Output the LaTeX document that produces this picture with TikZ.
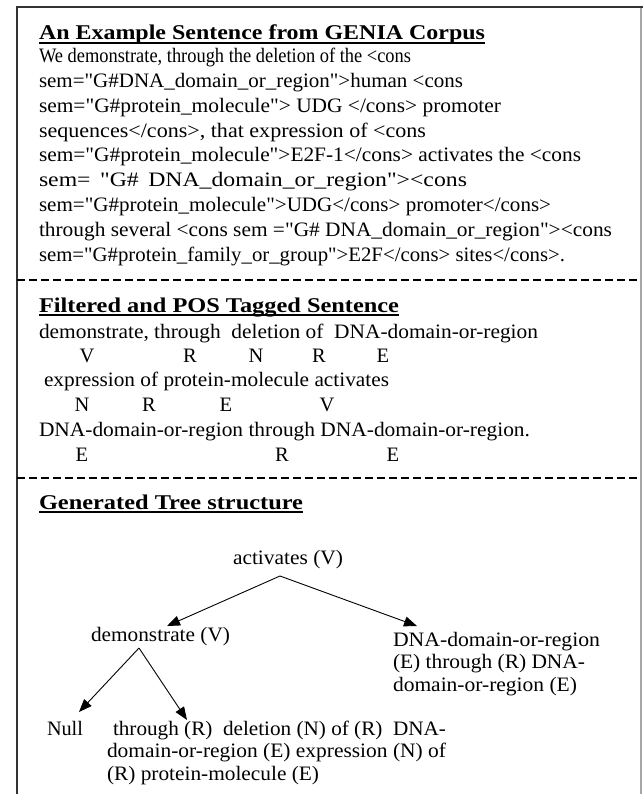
\documentclass[tikz,border=0pt]{standalone}
\usepackage{fontspec}
\setmainfont{Liberation Serif}[Ligatures=TeXOff]
\usepackage{graphicx}
\usetikzlibrary{arrows.meta}
\newcommand\fw[2]{\resizebox{#1pt}{\height}{#2}}
\begin{document}
\begin{tikzpicture}[x=1pt,y=-1pt,
  txt/.style={anchor=base west, inner sep=0pt, outer sep=0pt, font=\fontsize{20.5}{24}\selectfont},
  head/.style={anchor=base west, inner sep=0pt, outer sep=0pt, font=\fontsize{21}{24}\selectfont\bfseries},
  tag/.style={anchor=base, inner sep=0pt, outer sep=0pt, font=\fontsize{20.5}{24}\selectfont},
  uline/.style={line width=1.3pt},
  sep/.style={line width=1.8pt, dash pattern=on 7.5pt off 4.5pt},
  edge/.style={line width=0.9pt, -{Triangle[length=13pt,width=10pt]}},
]
\useasboundingbox (0,0) rectangle (642,794);
\fill[white] (0,0) rectangle (642,794);
% frame
\draw[line width=2.4pt, black!80] (17,796) -- (17,7) -- (643,7);
\draw[black!35, line width=1.2pt] (641,8) -- (641,796);
\draw[sep] (17,280) -- (641,280);
\draw[sep] (17,478) -- (641,478);

% section 1
\node[head] (h1) at (39,40) {\fw{446}{An Example Sentence from GENIA Corpus}};
\draw[uline] ([yshift=-3pt]h1.base west) -- ([yshift=-3pt]h1.base east);
\node[txt] (s1) at (39,63) {\fw{372}{We demonstrate, through the deletion of the <cons}};
\node[txt] (s2) at (39,87.75) {\fw{424}{sem="G\#DNA\_domain\_or\_region">human <cons}};
\node[txt] (s3) at (39,112.5) {\fw{462}{sem="G\#protein\_molecule"> UDG </cons> promoter}};
\node[txt] (s4) at (39,137.25) {\fw{387}{sequences</cons>, that expression of <cons}};
\node[txt] (s5) at (39,162) {\fw{542}{sem="G\#protein\_molecule">E2F-1</cons> activates the <cons}};
\node[txt] (s6) at (39,186.75) {\fw{428}{sem=\hspace{0.15em} "G\#\hspace{0.15em} DNA\_domain\_or\_region"><cons}};
\node[txt] (s7) at (39,211.5) {\fw{512}{sem="G\#protein\_molecule">UDG</cons> promoter</cons>}};
\node[txt] (s8) at (39,236.25) {\fw{573}{through several <cons sem ="G\# DNA\_domain\_or\_region"><cons}};
\node[txt] (s9) at (39,261) {\fw{526}{sem="G\#protein\_family\_or\_group">E2F</cons> sites</cons>.}};

% section 2
\node[head] (h2) at (39,312) {\fw{360}{Filtered and POS Tagged Sentence}};
\draw[uline] ([yshift=-3pt]h2.base west) -- ([yshift=-3pt]h2.base east);
\node[txt] (p1) at (39,338) {\fw{499}{demonstrate, through\ \ deletion of\ \ DNA-domain-or-region}};
\node[tag] (t1a) at (87,362) {V};
\node[tag] (t1b) at (190,362) {R};
\node[tag] (t1c) at (256,362) {N};
\node[tag] (t1d) at (319,362) {R};
\node[tag] (t1e) at (383,362) {E};
\node[txt] (p2) at (44,386) {\fw{345}{expression of protein-molecule activates}};
\node[tag] (t2a) at (82,411) {N};
\node[tag] (t2b) at (149,411) {R};
\node[tag] (t2c) at (226,411) {E};
\node[tag] (t2d) at (327,411) {V};
\node[txt] (p3) at (39,436) {\fw{491}{DNA-domain-or-region through DNA-domain-or-region.}};
\node[tag] (t3a) at (82,461) {E};
\node[tag] (t3b) at (282,461) {R};
\node[tag] (t3c) at (393,461) {E};

% section 3
\node[head] (h3) at (39,509) {\fw{264}{Generated Tree structure}};
\draw[uline] ([yshift=-3pt]h3.base west) -- ([yshift=-3pt]h3.base east);

\node[txt] (act) at (233,564) {\fw{110}{activates (V)}};
\node[txt] (dem) at (91,641) {\fw{139}{demonstrate (V)}};
\node[txt] (r1) at (393,646) {\fw{207}{DNA-domain-or-region}};
\node[txt] (r2) at (393,668.5) {\fw{192}{(E) through (R) DNA-}};
\node[txt] (r3) at (393,691) {\fw{184}{domain-or-region (E)}};
\node[txt] (null) at (47,735) {\fw{36}{Null}};
\node[txt] (b1) at (113,735) {\fw{333}{through (R)\ \ deletion (N) of (R)\ \ DNA-}};
\node[txt] (b2) at (107,757.5) {\fw{339}{domain-or-region (E) expression (N) of}};
\node[txt] (b3) at (107,780) {\fw{212}{(R) protein-molecule (E)}};

\coordinate (actfoot) at (280,576);
\coordinate (demtip) at (167,626);
\coordinate (rtip) at (417,626);
\coordinate (demfoot) at (139,648);
\coordinate (nulltip) at (79,712);
\coordinate (btip) at (187,720);
\draw[edge] (actfoot) -- (demtip);
\draw[edge] (actfoot) -- (rtip);
\draw[edge] (demfoot) -- (nulltip);
\draw[edge] (demfoot) -- (btip);
\end{tikzpicture}
\end{document}
